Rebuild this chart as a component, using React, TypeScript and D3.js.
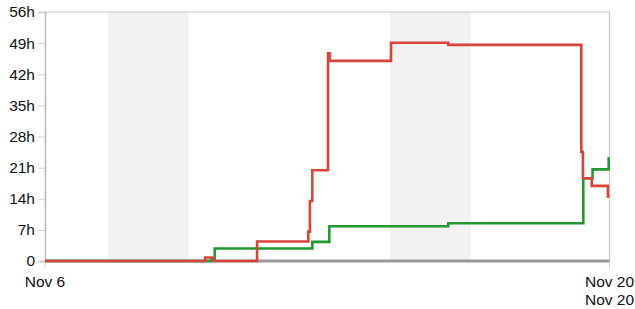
import React, { useRef, useEffect } from 'react';
import * as d3 from 'd3';

// time is in days after Nov 6, values are hours
const startDate = Date.UTC(2010, 10, 6);
const totalDays = 14;

const weekendStarts = [1.56, 8.56];
const weekendLength = 2;

const redDays = [0, 3.97, 4.17, 5.26, 6.53, 6.57, 6.63, 7.02, 7.06, 8.58, 10.0, 13.3, 13.34, 13.56, 13.96, 14];
const redHours = [0, 0.8, 0, 4.4, 6.6, 13.5, 20.4, 46.7, 45.0, 49.1, 48.6, 24.5, 18.6, 16.9, 14.5, 14.5];

const greenDays = [0, 4.12, 4.21, 6.63, 7.05, 10.0, 13.35, 13.58, 13.98, 14];
const greenHours = [0, 0.4, 2.8, 4.3, 7.8, 8.5, 18.6, 20.6, 23.1, 23.1];

const yTicks = [0, 7, 14, 21, 28, 35, 42, 49, 56];
const xTickDays = [0, 14, 14];
const xTickLabels = ['Nov 6', 'Nov 20', 'Nov 20'];

const toDate = (d: number) => new Date(startDate + d * 86400000);

const App = () => {
  const svgRef = useRef<SVGSVGElement>(null);

  useEffect(() => {
    const svg = d3.select(svgRef.current);
    svg.selectAll('*').remove();

    const left = 45, right = 609.5, top = 12, bottom = 261;
    const font = '"Liberation Sans", Arial, sans-serif';

    const x = d3.scaleTime()
      .domain([toDate(0), toDate(totalDays)])
      .range([left, right]);
    const y = d3.scaleLinear().domain([0, 56]).range([bottom, top]);

    // weekend shading
    svg.selectAll('.weekend')
      .data(weekendStarts)
      .enter().append('rect')
      .attr('x', d => x(toDate(d)))
      .attr('y', top)
      .attr('width', d => x(toDate(d + weekendLength)) - x(toDate(d)))
      .attr('height', bottom - top)
      .attr('fill', '#f2f2f2');

    // frame
    svg.append('path')
      .attr('d', `M${left},${top}H${right}V${bottom}`)
      .attr('fill', 'none')
      .attr('stroke', '#c8c8c8')
      .attr('stroke-width', 1.2);

    // y axis
    const yAxis = svg.append('g')
      .attr('transform', `translate(${left},0)`)
      .call(d3.axisLeft(y)
        .tickValues(yTicks)
        .tickFormat(d => (+d === 0 ? '0' : `${d}h`))
        .tickSize(7)
        .tickPadding(3));
    yAxis.select('.domain').attr('stroke', '#b5b5b5').attr('stroke-width', 1.5);
    yAxis.selectAll('.tick line').attr('stroke', '#d0d0d0');
    yAxis.selectAll('.tick text')
      .attr('font-family', font)
      .attr('font-size', 15.5)
      .attr('fill', '#111');

    // x ticks and labels
    const xg = svg.append('g');
    xTickDays.forEach((d, i) => {
      const row = xTickDays.slice(0, i).filter(v => v === d).length;
      const px = x(toDate(d));
      if (row === 0) {
        xg.append('line')
          .attr('x1', px).attr('x2', px)
          .attr('y1', bottom).attr('y2', bottom + 7)
          .attr('stroke', '#d0d0d0');
      }
      xg.append('text')
        .attr('x', px)
        .attr('y', 287 + row * 17.5)
        .attr('text-anchor', 'middle')
        .attr('font-family', font)
        .attr('font-size', 15.5)
        .attr('fill', '#111')
        .text(xTickLabels[i]);
    });

    // baseline
    svg.append('line')
      .attr('x1', left).attr('x2', right)
      .attr('y1', bottom).attr('y2', bottom)
      .attr('stroke', '#999')
      .attr('stroke-width', 3);

    const line = d3.line<[number, number]>()
      .x(d => x(toDate(d[0])))
      .y(d => y(d[1]))
      .curve(d3.curveStepAfter);

    const green = greenDays.map((d, i) => [d, greenHours[i]] as [number, number]);
    const red = redDays.map((d, i) => [d, redHours[i]] as [number, number]);

    svg.append('path')
      .attr('d', line(green))
      .attr('fill', 'none')
      .attr('stroke', '#1f9a30')
      .attr('stroke-width', 2.6);

    svg.append('path')
      .attr('d', line(red))
      .attr('fill', 'none')
      .attr('stroke', '#dc4338')
      .attr('stroke-width', 2.6);
  }, []);

  return (
    <svg
      ref={svgRef}
      width={635}
      height={309}
      style={{ position: 'absolute', left: 0, top: 0, background: '#fff' }}
    />
  );
};

export default App;
